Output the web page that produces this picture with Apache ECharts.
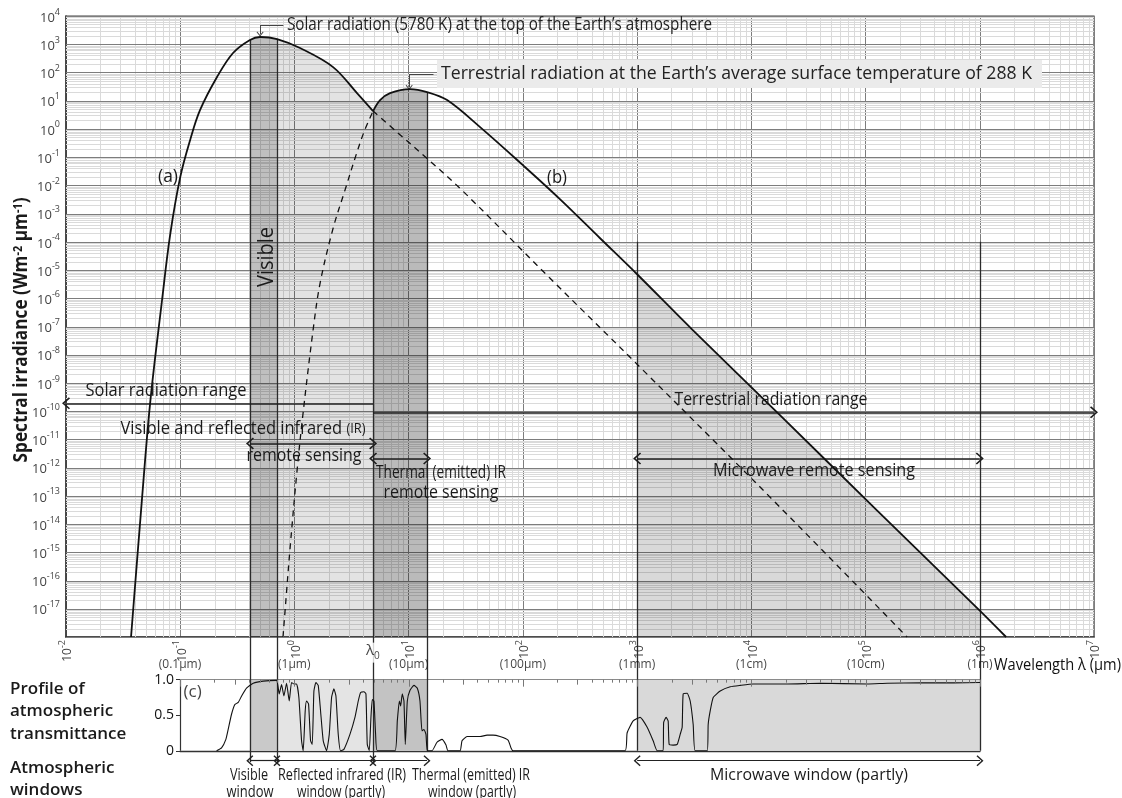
<!DOCTYPE html>
<html><head><meta charset="utf-8">
<script src="https://cdn.jsdelivr.net/npm/echarts@6/dist/echarts.min.js"></script>
<style>html,body{margin:0;padding:0;background:#fff}#c{width:1122px;height:798px}</style>
</head><body><div id="c"></div><script>
// ---------- DATA (wavelength in μm, spectral irradiance in W m^-2 μm^-1) ----------
const solarLambda = [0.0371, 0.0454, 0.0545, 0.0693, 0.0815, 0.1, 0.122, 0.149, 0.210, 0.290, 0.408, 0.500, 0.705, 1.12, 2.18, 3.53, 4.88];
const solarValue  = [1e-18, 3.0e-14, 1.9e-10, 8.5e-7, 1.7e-4, 0.0195, 0.40, 4.6, 68.7, 488, 1410, 1800, 1530, 733, 155, 18.6, 4.28];
const solarTailLambda = [4.88, 7.91, 15.4, 29.9, 173, 1000, 17900, 231000];
const solarTailValue  = [4.28, 0.77, 0.0721, 6.2e-3, 5.1e-6, 4.6e-9, 3.9e-14, 1e-18];
const terrRiseLambda = [0.794, 0.844, 0.915, 1.054, 1.189, 1.455, 1.676, 2.18, 2.77, 3.46, 4.06, 4.88];
const terrRiseValue  = [1e-18, 2.3e-17, 1.36e-15, 7.9e-13, 8.3e-11, 7.3e-8, 3.4e-6, 3.03e-4, 6.76e-3, 0.118, 0.77, 4.28];
const terrLambda = [4.88, 5.62, 6.87, 10.3, 14.5, 21.7, 42.2, 100, 212, 474, 1000, 3090, 17900, 126500, 1e6, 1.70e6];
const terrValue  = [4.28, 10.5, 18.6, 25.8, 20.2, 10.5, 1.16, 0.052, 3.2e-3, 1.34e-4, 7.1e-6, 7.3e-8, 7.1e-11, 3.0e-14, 8.6e-18, 1e-18];

// atmospheric transmittance profile (c)
const transLambda = [0.209,0.231,0.252,0.264,0.282,0.302,0.323,0.346,0.382,0.437,0.534,0.699,
  0.738,0.774,0.811,0.856,0.903,0.946,0.992,1.047,1.097,1.158,1.197,1.246,1.280,1.333,1.388,1.436,1.485,1.546,1.620,1.698,1.792,1.917,2.023,2.120,2.223,2.314,2.425,2.542,2.718,3.068,3.394,3.629,3.804,4.070,4.236,4.351,4.530,4.686,4.814,4.977,5.148,5.324,
  7.60,7.97,8.30,8.52,8.81,9.11,9.36,9.75,10.29,11.15,11.93,12.58,13.10,13.64,14.20,14.59,
  16.03,17.73,19.61,21.26,22.13,
  28.19,29.35,32.47,36.63,42.20,48.6,54.8,63.1,74.2,78.8,82.1,
  785,817,923,1062,1224,1381,1497,
  1689,1706,1794,1868,1906,2066,2240,2379,2477,2528,2740,2912,3093,3220,
  4102,4184,4357,4630,5332,6523,7978,10370,20580,40040,103300,154600,300700,584800,1000000];
const transValue = [0,0.04,0.16,0.30,0.51,0.65,0.68,0.77,0.88,0.95,0.98,0.99,
  0.80,0.93,0.77,0.95,0.70,0.96,0.94,0.94,0.75,0.14,0,0.56,0.70,0.66,0.14,0.09,0.84,0.96,0.92,0.56,0.14,0,0.23,0.75,0.87,0.77,0.23,0,0.02,0.23,0.47,0.70,0.82,0.83,0.80,0.09,0,0.47,0.72,0.70,0.23,0,
  0,0.42,0.70,0.63,0.80,0.70,0.09,0.70,0.85,0.92,0.88,0.70,0.28,0.30,0.23,0,
  0,0.12,0.16,0.08,0,
  0,0.14,0.20,0.20,0.20,0.22,0.22,0.20,0.15,0.04,0,
  0,0.25,0.42,0.47,0.33,0.14,0,
  0,0.40,0.47,0.42,0.09,0.08,0.09,0.23,0.33,0.80,0.81,0.70,0.37,0,
  0,0.37,0.56,0.75,0.84,0.90,0.92,0.94,0.94,0.95,0.94,0.95,0.955,0.955,0.96];

// band limits (μm)
const lambda0 = 4.88;
const visibleBand = [0.408, 0.705];
const reflectedBand = [0.705, lambda0];
const thermalBand = [lambda0, 14.5];
const microwaveBand = [1000, 1e6];
const microwaveTop = 1e-4;

// tick labels
const yExponents = [-18,-17,-16,-15,-14,-13,-12,-11,-10,-9,-8,-7,-6,-5,-4,-3,-2,-1,0,1,2,3,4];
const subTickLambda = [0.1, 1, 10, 100, 1000, 1e4, 1e5, 1e6];
const subTickLabels = ['(0.1μm)', '(1μm)', '(10μm)', '(100μm)', '(1mm)', '(1cm)', '(10cm)', '(1m)'];
const transTicks = [0, 0.5, 1];
const transTickLabels = ['0', '0.5', '1.0'];

// ---------- helpers ----------
const FAM = "'Open Sans', 'Noto Sans', sans-serif";
const X_MIN = 0.01, X_MAX = 1e7, Y_MIN = 1e-18, Y_MAX = 1e4;
const pairs = (a, b) => a.map((v, i) => [v, b[i]]);
const SMOOTH = 0.35;
const CHEV = 'path://M0,10 L10,0 L20,10 L18.2,11.6 L10,3.4 L1.8,11.6 Z';
const MINOR_C = '#dadada', MAJOR_C = '#7d7d7d';

const minorX = [], minorY = [], lowTicks = [];
for (let e = -2; e < 7; e++) for (let k = 2; k <= 9; k++) minorX.push(+(k * Math.pow(10, e)).toPrecision(3));
for (let e = -18; e < 4; e++) for (let k = 2; k <= 9; k++) minorY.push(+(k * Math.pow(10, e)).toPrecision(3));
for (let e = -1; e <= 6; e++) for (let k = 1; k <= 9; k++) { if (e === 6 && k > 1) break; lowTicks.push([+(k * Math.pow(10, e)).toPrecision(3), k]); }

const mctx = document.createElement('canvas').getContext('2d');
function tw(str, size, weight) { mctx.font = (weight || 'normal') + ' ' + size + 'px ' + FAM; return mctx.measureText(str).width; }
function txt(o) {
  const w = o.measured || tw(o.text, o.size, o.weight);
  const sx = o.width ? o.width / w : 1;
  const al = o.align || 'center';
  return { type: 'text', x: o.x, y: o.y, rotation: o.rotation || 0, scaleX: sx, z: 100, silent: true,
    style: { text: o.text, fontSize: o.size, fontFamily: FAM, fontWeight: o.weight || 'normal', fill: o.color || '#1a1a1a',
      align: al, textAlign: al, verticalAlign: 'middle', textVerticalAlign: 'middle', rich: o.rich } };
}

const supRich = { b: { fontSize: 12, fill: '#444', color: '#444', lineHeight: 16, verticalAlign: 'bottom', fontFamily: FAM },
                  s: { fontSize: 9, fill: '#444', color: '#444', lineHeight: 10, verticalAlign: 'top', fontFamily: FAM } };
const yRich = { b: Object.assign({}, supRich.b, { fontSize: 13, lineHeight: 17 }), s: supRich.s };
const expFmt = v => '{b|10}{s|' + Math.round(Math.log10(v)) + '}';

function vMinor(params, api) {
  const v = api.value(0);
  const p = api.coord([v, Y_MIN]), q = api.coord([v, Y_MAX]);
  const x = Math.round(p[0]) + 0.5;
  return { type: 'line', silent: true, shape: { x1: x, y1: p[1], x2: x, y2: q[1] }, style: { stroke: MINOR_C, lineWidth: 1 } };
}
function hMinor(params, api) {
  const v = api.value(1);
  const p = api.coord([X_MIN, v]), q = api.coord([X_MAX, v]);
  const y = Math.round(p[1]) + 0.5;
  return { type: 'line', silent: true, shape: { x1: p[0], y1: y, x2: q[0], y2: y }, style: { stroke: MINOR_C, lineWidth: 1 } };
}
function hMajor(params, api) {
  const v = api.value(1), e = api.value(2);
  const p = api.coord([X_MIN, v]), q = api.coord([X_MAX, v]);
  const y = Math.round(p[1]) + 0.5;
  const children = [{ type: 'line', silent: true, shape: { x1: p[0], y1: y, x2: q[0], y2: y }, style: { stroke: MAJOR_C, lineWidth: 1 } }];
  if (e > -18) children.push({ type: 'text', silent: true, x: p[0] - 6, y: p[1],
    style: { text: '{b|10}{s|' + e + '}', rich: yRich, align: 'right', verticalAlign: 'middle', fill: '#444', fontFamily: FAM } });
  return { type: 'group', children: children };
}
function lowTick(params, api) {
  const v = api.value(0), k = api.value(2);
  const p = api.coord([v, 1]);
  const len = k === 1 ? 7 : (k === 3 ? 5 : 3);
  const x = Math.round(p[0]) + 0.5;
  return { type: 'line', silent: true, shape: { x1: x, y1: p[1], x2: x, y2: p[1] + len }, style: { stroke: '#777', lineWidth: 1 } };
}

const edge = { color: '#2b2b2b', width: 1.3, type: 'solid' };
const arrowLine = { color: '#1e1e1e', width: 1.6, type: 'solid' };
const lowArrow = { color: '#222', width: 1.2, type: 'solid' };
const leader = { color: '#444', width: 1, type: 'solid' };
function seg(a, b, style, s1, s2, size) {
  return [{ coord: a, lineStyle: style, symbol: s1 || 'none', symbolSize: size || [12, 8] },
          { coord: b, symbol: s2 || 'none', symbolSize: size || [12, 8] }];
}

const visIdx = [solarLambda.indexOf(visibleBand[0]), solarLambda.indexOf(visibleBand[1])];
const refIdx = [solarLambda.indexOf(reflectedBand[0]), solarLambda.indexOf(reflectedBand[1])];
const thIdx = [terrLambda.indexOf(thermalBand[0]), terrLambda.indexOf(thermalBand[1])];
const mwIdx = [terrLambda.indexOf(microwaveBand[0]), terrLambda.indexOf(microwaveBand[1])];
const solarPts = pairs(solarLambda, solarValue);
const terrPts = pairs(terrLambda, terrValue);

function areaSeries(pts, color) {
  return { type: 'line', xAxisIndex: 0, yAxisIndex: 0, data: pts, smooth: SMOOTH, symbol: 'none', silent: true, z: 2,
    lineStyle: { width: 0 }, areaStyle: { color: color, origin: 'start', opacity: 1 } };
}

const chart = echarts.init(document.getElementById('c'), null, { renderer: 'canvas' });
const T_ARROW = -0.14;

const option = {
  animation: false,
  textStyle: { fontFamily: FAM },
  grid: [
    { left: 66, right: 28, top: 16, bottom: 161, show: true, borderColor: '#444', borderWidth: 1.2, backgroundColor: 'transparent' },
    { left: 180, right: 142, top: 637, bottom: 33 }
  ],
  xAxis: [
    { type: 'log', logBase: 10, gridIndex: 0, min: X_MIN, max: X_MAX, splitNumber: 9,
      axisLine: { show: true, lineStyle: { color: '#333', width: 1.5 } }, axisTick: { show: false },
      axisLabel: { rotate: 90, margin: 3, formatter: expFmt, rich: supRich, showMinLabel: true, showMaxLabel: true },
      splitLine: { show: true, lineStyle: { color: MAJOR_C, width: 1 } } },
    { type: 'log', logBase: 10, gridIndex: 1, min: 0.1, max: 1e6, splitNumber: 7,
      axisLine: { show: true, onZero: true, lineStyle: { color: '#333', width: 1.3 } },
      axisTick: { show: false }, axisLabel: { show: false }, splitLine: { show: false } }
  ],
  yAxis: [
    { type: 'log', logBase: 10, gridIndex: 0, min: Y_MIN, max: Y_MAX,
      axisLine: { show: true, lineStyle: { color: '#333', width: 1.5 } }, axisTick: { show: false },
      axisLabel: { show: false }, splitLine: { show: false } },
    { type: 'value', gridIndex: 1, min: -0.2, max: 1.6,
      axisLine: { show: false }, splitLine: { show: false },
      axisTick: { show: true, customValues: transTicks, length: 4, lineStyle: { color: '#333' } },
      axisLabel: { show: true, customValues: transTicks, margin: 6, fontSize: 14, color: '#111',
        formatter: v => transTickLabels[transTicks.indexOf(Math.round(v * 10) / 10)] || '' } }
  ],
  series: [
    { type: 'custom', xAxisIndex: 0, yAxisIndex: 0, renderItem: vMinor, data: minorX.map(v => [v, 1]), encode: { x: 0, y: 1 }, z: 1, silent: true },
    { type: 'custom', xAxisIndex: 0, yAxisIndex: 0, renderItem: hMinor, data: minorY.map(v => [1, v]), encode: { x: 0, y: 1 }, z: 1, silent: true },
    { type: 'custom', xAxisIndex: 0, yAxisIndex: 0, renderItem: hMajor, data: yExponents.map(e => [1, Math.pow(10, e), e]), encode: { x: 0, y: 1 }, z: 1, silent: true, clip: false },
    areaSeries(solarPts.slice(visIdx[0], visIdx[1] + 1), 'rgba(0,0,0,0.25)'),
    areaSeries(solarPts.slice(refIdx[0], refIdx[1] + 1), 'rgba(0,0,0,0.11)'),
    areaSeries(terrPts.slice(thIdx[0], thIdx[1] + 1), 'rgba(0,0,0,0.27)'),
    areaSeries(terrPts.slice(mwIdx[0], mwIdx[1] + 1), 'rgba(0,0,0,0.15)'),
    { type: 'line', name: 'solar', xAxisIndex: 0, yAxisIndex: 0, data: solarPts, smooth: SMOOTH, symbol: 'none', silent: true, z: 6,
      lineStyle: { color: '#111', width: 1.8 },
      markLine: { silent: true, animation: false, label: { show: false }, symbol: ['none', 'none'],
        data: [
          seg([visibleBand[0], solarValue[visIdx[0]]], [visibleBand[0], Y_MIN], edge),
          seg([visibleBand[1], solarValue[visIdx[1]]], [visibleBand[1], Y_MIN], edge),
          seg([lambda0, solarValue[refIdx[1]]], [lambda0, Y_MIN], edge),
          seg([thermalBand[1], terrValue[thIdx[1]]], [thermalBand[1], Y_MIN], edge),
          seg([microwaveBand[0], microwaveTop], [microwaveBand[0], Y_MIN], edge),
          seg([microwaveBand[1], microwaveTop], [microwaveBand[1], Y_MIN], edge),
          seg([lambda0, 1.9e-10], [X_MIN, 1.9e-10], arrowLine, 'none', CHEV),
          seg([lambda0, 9.1e-11], [X_MAX, 9.1e-11], arrowLine, 'none', CHEV),
          seg([visibleBand[0], 7.2e-12], [lambda0, 7.2e-12], arrowLine, CHEV, CHEV),
          seg([thermalBand[0], 2.1e-12], [thermalBand[1], 2.1e-12], arrowLine, CHEV, CHEV),
          seg([microwaveBand[0], 2.1e-12], [microwaveBand[1], 2.1e-12], arrowLine, CHEV, CHEV),
          seg([0.5, 4800], [0.8, 4800], leader),
          seg([0.5, 4800], [0.5, 2300], leader, 'none', CHEV, [7, 5]),
          seg([10.1, 88], [16.5, 88], leader),
          seg([10.1, 88], [10.1, 30], leader, 'none', CHEV, [7, 5])
        ] } },
    { type: 'line', xAxisIndex: 0, yAxisIndex: 0, data: pairs(solarTailLambda, solarTailValue), smooth: SMOOTH, symbol: 'none', silent: true, z: 6,
      lineStyle: { color: '#111', width: 1.3, type: [6, 5] } },
    { type: 'line', xAxisIndex: 0, yAxisIndex: 0, data: pairs(terrRiseLambda, terrRiseValue), smooth: SMOOTH, symbol: 'none', silent: true, z: 6,
      lineStyle: { color: '#111', width: 1.3, type: [6, 5] } },
    { type: 'line', xAxisIndex: 0, yAxisIndex: 0, data: terrPts, smooth: SMOOTH, symbol: 'none', silent: true, z: 6,
      lineStyle: { color: '#111', width: 1.8 } },
    // lower panel (c)
    { type: 'line', xAxisIndex: 1, yAxisIndex: 1, data: pairs(transLambda, transValue), smooth: 0.15, symbol: 'none', silent: true, z: 5,
      lineStyle: { color: '#111', width: 1.1 },
      markArea: { silent: true, label: { show: false },
        data: [
          [{ coord: [visibleBand[0], 0], itemStyle: { color: '#c9c9c9' } }, { coord: [visibleBand[1], 1] }],
          [{ coord: [reflectedBand[0], 0], itemStyle: { color: '#e4e4e4' } }, { coord: [reflectedBand[1], 1] }],
          [{ coord: [thermalBand[0], 0], itemStyle: { color: '#c3c3c3' } }, { coord: [thermalBand[1], 1] }],
          [{ coord: [microwaveBand[0], 0], itemStyle: { color: '#d9d9d9' } }, { coord: [microwaveBand[1], 1] }]
        ] },
      markLine: { silent: true, animation: false, label: { show: false }, symbol: ['none', 'none'],
        data: [
          seg([0.1, 0], [0.1, 1], { color: '#333', width: 1.2, type: 'solid' }),
          seg([0.1, 1], [1e6, 1], { color: '#8a8a8a', width: 1, type: 'solid' }),
          seg([visibleBand[0], -0.16], [visibleBand[0], 1.6], edge),
          seg([visibleBand[1], -0.16], [visibleBand[1], 1.6], edge),
          seg([lambda0, -0.17], [lambda0, 1.6], edge),
          seg([thermalBand[1], 0], [thermalBand[1], 1.6], edge),
          seg([microwaveBand[0], 0], [microwaveBand[0], 1.6], edge),
          seg([microwaveBand[1], 0], [microwaveBand[1], 1.6], edge),
          seg([visibleBand[0], T_ARROW], [visibleBand[1], T_ARROW], lowArrow, CHEV, CHEV, [11, 7]),
          seg([reflectedBand[0], T_ARROW], [reflectedBand[1], T_ARROW], lowArrow, CHEV, CHEV, [11, 7]),
          seg([thermalBand[0], T_ARROW], [thermalBand[1], T_ARROW], lowArrow, CHEV, CHEV, [11, 7]),
          seg([microwaveBand[0], T_ARROW], [microwaveBand[1], T_ARROW], lowArrow, CHEV, CHEV, [11, 7])
        ] } },
    { type: 'custom', xAxisIndex: 1, yAxisIndex: 1, renderItem: lowTick, data: lowTicks.map(t => [t[0], 1, t[1]]), encode: { x: 0, y: 1 }, z: 6, silent: true },
    { type: 'scatter', xAxisIndex: 1, yAxisIndex: 1, symbolSize: 0, silent: true, z: 7,
      data: subTickLambda.map((v, i) => ({ value: [v, 1.21], name: subTickLabels[i] })),
      label: { show: true, position: 'inside', formatter: '{b}', fontSize: 12, color: '#111', fontFamily: FAM } },
    { type: 'scatter', xAxisIndex: 1, yAxisIndex: 1, symbolSize: 0, silent: true, z: 8,
      data: [{ value: [lambda0, 1.38], name: 'λ' }],
      label: { show: true, position: 'inside', formatter: '{a|λ}{s|0}', backgroundColor: '#fff', padding: [1, 1],
        rich: { a: { fontSize: 15, color: '#111', fontFamily: FAM, lineHeight: 18, verticalAlign: 'top' }, s: { fontSize: 10, color: '#111', lineHeight: 12, verticalAlign: 'bottom' } } } },
    { type: 'scatter', xAxisIndex: 1, yAxisIndex: 1, symbolSize: 0, silent: true, z: 8,
      data: [{ value: [0.129, 0.82], name: '(c)' }],
      label: { show: true, position: 'inside', formatter: '{b}', fontSize: 17, color: '#111', fontFamily: FAM } }
  ],
  graphic: [
    { type: 'rect', z: 90, silent: true, shape: { x: 437, y: 60, width: 605, height: 28 }, style: { fill: '#ebebeb' } },
    txt({ text: 'Solar radiation (5780 K) at the top of the Earth’s atmosphere', x: 287, y: 25, size: 18, width: 425, align: 'left', color: '#222' }),
    txt({ text: 'Terrestrial radiation at the Earth’s average surface temperature of 288 K', x: 441, y: 74, size: 18, width: 591, align: 'left', color: '#222' }),
    txt({ text: '(a)', x: 168, y: 177, size: 18, width: 20 }),
    txt({ text: '(b)', x: 557, y: 178, size: 18, width: 20 }),
    txt({ text: 'Visible', x: 267, y: 257, size: 22, width: 60, rotation: Math.PI / 2 }),
    txt({ text: 'Solar radiation range', x: 166, y: 391, size: 18, width: 161 }),
    txt({ text: 'Terrestrial radiation range', x: 771, y: 400, size: 18, width: 193 }),
    txt({ text: 'Visible and reflected infrared {s|(IR)}', x: 243, y: 429, size: 18, width: 245,
      measured: tw('Visible and reflected infrared ', 18) + tw('(IR)', 14), rich: { s: { fontSize: 14, fontFamily: FAM, fill: '#1a1a1a' } } }),
    txt({ text: 'remote sensing', x: 304, y: 456, size: 18, width: 115 }),
    txt({ text: 'Thermal (emitted) IR', x: 441, y: 473, size: 18, width: 130 }),
    txt({ text: 'remote sensing', x: 441, y: 493, size: 18, width: 115 }),
    txt({ text: 'Microwave remote sensing', x: 814, y: 471, size: 18, width: 202 }),
    txt({ text: 'Wavelength λ (μm)', x: 994, y: 665, size: 17, width: 127, align: 'left', color: '#111' }),
    txt({ text: 'Spectral irradiance (Wm{s|-2} μm{s|-1})', x: 22, y: 330, size: 19, weight: 'bold', width: 265, rotation: Math.PI / 2,
      measured: tw('Spectral irradiance (Wm', 19, 'bold') + tw(' μm)', 19, 'bold') + tw('-2-1', 12, 'bold'),
      rich: { s: { fontSize: 12, fontWeight: 'bold', fontFamily: FAM, verticalAlign: 'top', lineHeight: 12 } } }),
    txt({ text: 'Profile of', x: 10, y: 689, size: 17, weight: 600, align: 'left' }),
    txt({ text: 'atmospheric', x: 10, y: 711, size: 17, weight: 600, align: 'left' }),
    txt({ text: 'transmittance', x: 10, y: 734, size: 17, weight: 600, align: 'left' }),
    txt({ text: 'Atmospheric', x: 10, y: 768, size: 17, weight: 600, align: 'left' }),
    txt({ text: 'windows', x: 10, y: 790, size: 17, weight: 600, align: 'left' }),
    txt({ text: 'Visible', x: 249, y: 775, size: 16, width: 38 }),
    txt({ text: 'window', x: 250, y: 792, size: 16, width: 47 }),
    txt({ text: 'Reflected infrared (IR)', x: 342, y: 775, size: 16, width: 128 }),
    txt({ text: 'window (partly)', x: 341, y: 792, size: 16, width: 88 }),
    txt({ text: 'Thermal (emitted) IR', x: 471, y: 775, size: 16, width: 118 }),
    txt({ text: 'window (partly)', x: 472, y: 792, size: 16, width: 88 }),
    txt({ text: 'Microwave window (partly)', x: 809, y: 775, size: 16, width: 198 })
  ]
};
chart.setOption(option);
</script></body></html>
